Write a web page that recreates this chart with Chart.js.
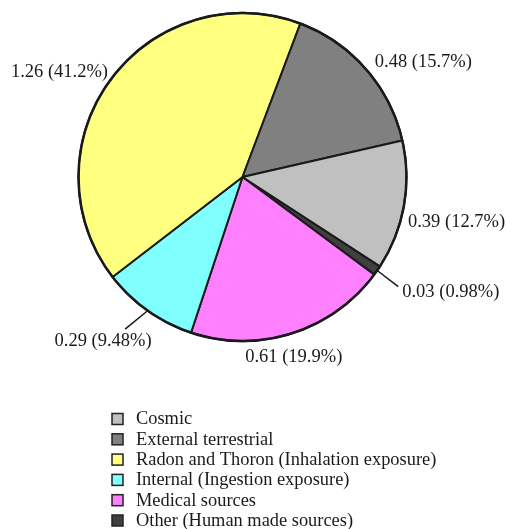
<!DOCTYPE html>
<html>
<head>
<meta charset="utf-8">
<script src="https://cdn.jsdelivr.net/npm/chart.js@4/dist/chart.umd.min.js"></script>
<style>
  html, body { margin: 0; padding: 0; background: #ffffff; }
  #wrap { width: 506px; height: 529px; }
</style>
</head>
<body>
<div id="wrap"><canvas id="pie" width="506" height="529"></canvas></div>
<script>
// Annual effective dose by source (mSv), legend order
const categories = [
  'Cosmic',
  'External terrestrial',
  'Radon and Thoron (Inhalation exposure)',
  'Internal (Ingestion exposure)',
  'Medical sources',
  'Other (Human made sources)'
];
const doses = [0.39, 0.48, 1.26, 0.29, 0.61, 0.03];
const sliceColors = ['#c0c0c0', '#808080', '#ffff80', '#80ffff', '#ff80ff', '#404040'];

// Label placement relative to each slice's outer edge at its mid angle
const labelPlacement = [
  { align: 'left',   dx: 4,     dy: 16 },
  { align: 'left',   dx: 8.7,   dy: -7.4 },
  { align: 'right',  dx: -2.7,  dy: -7.5 },
  { align: 'center', dx: -44.5, dy: 30.3, lead: [-22.5, 18.3] },
  { align: 'center', dx: 1.7,   dy: 23.6 },
  { align: 'left',   dx: 25,    dy: 21.2, lead: [21, 16.2] }
];

const FONT = '"Liberation Serif", "Times New Roman", serif';
const total = doses.reduce((a, b) => a + b, 0);
const pctText = v => parseFloat((v / total * 100).toPrecision(3)).toString();

// slices are laid out counter-clockwise in legend order, so feed them reversed
const order = categories.map((_, i) => i).reverse();

const valueLabels = {
  id: 'valueLabels',
  afterDatasetsDraw(chart) {
    const ctx = chart.ctx;
    const arcs = chart.getDatasetMeta(0).data;
    ctx.save();
    ctx.font = '18.5px ' + FONT;
    ctx.fillStyle = '#1a1a1a';
    ctx.strokeStyle = '#1a1a1a';
    ctx.lineWidth = 1.5;
    ctx.textBaseline = 'middle';
    arcs.forEach((arc, j) => {
      const i = order[j];
      const p = arc.getProps(['x', 'y', 'startAngle', 'endAngle', 'outerRadius'], true);
      const mid = (p.startAngle + p.endAngle) / 2;
      const ex = p.x + Math.cos(mid) * p.outerRadius;
      const ey = p.y + Math.sin(mid) * p.outerRadius;
      const pl = labelPlacement[i];
      if (pl.lead) {
        ctx.beginPath();
        ctx.moveTo(ex, ey);
        ctx.lineTo(ex + pl.lead[0], ey + pl.lead[1]);
        ctx.stroke();
      }
      ctx.textAlign = pl.align;
      ctx.fillText(doses[i].toFixed(2) + ' (' + pctText(doses[i]) + '%)', ex + pl.dx, ey + pl.dy);
    });
    // outer rim
    const a0 = arcs[0].getProps(['x', 'y', 'outerRadius'], true);
    ctx.beginPath();
    ctx.lineWidth = 2.5;
    ctx.arc(a0.x, a0.y, a0.outerRadius, 0, Math.PI * 2);
    ctx.stroke();
    ctx.restore();
  }
};

const boxLegend = {
  id: 'boxLegend',
  afterDraw(chart) {
    const ctx = chart.ctx;
    ctx.save();
    ctx.font = '18.4px ' + FONT;
    ctx.textBaseline = 'middle';
    ctx.textAlign = 'left';
    const x0 = 112, y0 = 419, step = 20.3, box = 11;
    categories.forEach((name, i) => {
      const y = y0 + i * step;
      ctx.fillStyle = sliceColors[i];
      ctx.fillRect(x0, y - box / 2, box, box);
      ctx.strokeStyle = '#222222';
      ctx.lineWidth = 1.5;
      ctx.strokeRect(x0, y - box / 2, box, box);
      ctx.fillStyle = '#1a1a1a';
      ctx.fillText(name, 136, y + 0.5);
    });
    ctx.restore();
  }
};

new Chart(document.getElementById('pie'), {
  type: 'pie',
  data: {
    labels: order.map(i => categories[i]),
    datasets: [{
      data: order.map(i => doses[i]),
      backgroundColor: order.map(i => sliceColors[i]),
      borderColor: '#1a1a1a',
      borderWidth: 2
    }]
  },
  options: {
    responsive: false,
    animation: false,
    rotation: 123,
    layout: { padding: { left: 77.5, top: 12, right: 98.5, bottom: 187 } },
    plugins: {
      legend: { display: false },
      tooltip: { enabled: false }
    }
  },
  plugins: [valueLabels, boxLegend]
});
</script>
</body>
</html>
